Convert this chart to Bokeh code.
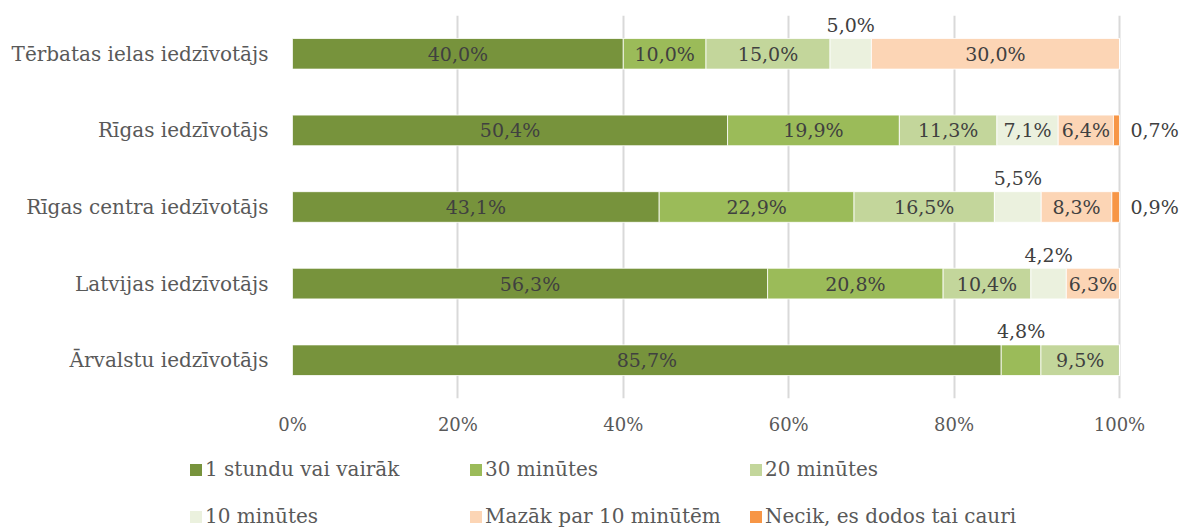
from bokeh.plotting import figure
from bokeh.layouts import column
from bokeh.models import (ColumnDataSource, FactorRange, Range1d, Legend, LegendItem,
                          LabelSet, FixedTicker)
from bokeh.core.properties import value
from bokeh.embed import file_html
from bokeh.resources import INLINE

categories = ["Tērbatas ielas iedzīvotājs", "Rīgas iedzīvotājs", "Rīgas centra iedzīvotājs",
              "Latvijas iedzīvotājs", "Ārvalstu iedzīvotājs"]
series_names = ["1 stundu vai vairāk", "30 minūtes", "20 minūtes", "10 minūtes",
                "Mazāk par 10 minūtēm", "Necik, es dodos tai cauri"]
s_1h = [40.0, 50.4, 43.1, 56.3, 85.7]
s_30 = [10.0, 19.9, 22.9, 20.8, 4.8]
s_20 = [15.0, 11.3, 16.5, 10.4, 9.5]
s_10 = [5.0, 7.1, 5.5, 4.2, 0.0]
s_lt10 = [30.0, 6.4, 8.3, 6.3, 0.0]
s_none = [0.0, 0.7, 0.9, 0.0, 0.0]
x_ticks = [0, 20, 40, 60, 80, 100]
x_tick_labels = ["0%", "20%", "40%", "60%", "80%", "100%"]
colors = ["#77933C", "#9BBB59", "#C3D69B", "#EBF1DE", "#FCD5B5", "#F79646"]

series = [s_1h, s_30, s_20, s_10, s_lt10, s_none]
totals = [sum(s[i] for s in series) for i in range(len(categories))]

TEXT_FONT = "DejaVu Serif"
NUM_FONT = "DejaVu Serif"

# frame extends to the right edge so labels outside the 100% end stay visible
p = figure(width=1183, height=448, output_backend="svg", toolbar_location=None,
           y_range=FactorRange(factors=list(reversed(categories))),
           x_range=Range1d(0, 107.74),
           min_border_left=292, min_border_right=0, min_border_top=15, min_border_bottom=50)
p.outline_line_color = None
p.frame_align = False

left_acc = [0.0] * len(categories)
renderers = []
lab_in = dict(x=[], y=[], t=[])
lab_above = dict(x=[], y=[], t=[])
lab_right = dict(x=[], y=[], t=[])
for si, (vals, col) in enumerate(zip(series, colors)):
    lefts, rights = [], []
    for ci, v in enumerate(vals):
        w = v / totals[ci] * 100.0
        lefts.append(left_acc[ci])
        rights.append(left_acc[ci] + w)
        if v > 0:
            txt = ("%.1f%%" % v).replace(".", ",")
            if v < 1.0:
                lab_right["x"].append(left_acc[ci] + w)
                lab_right["y"].append(categories[ci])
                lab_right["t"].append(txt)
            elif w < 6.0:
                lab_above["x"].append(left_acc[ci] + w / 2)
                lab_above["y"].append(categories[ci])
                lab_above["t"].append(txt)
            else:
                lab_in["x"].append(left_acc[ci] + w / 2)
                lab_in["y"].append(categories[ci])
                lab_in["t"].append(txt)
        left_acc[ci] += w
    src = ColumnDataSource(dict(y=categories, left=lefts, right=rights))
    r = p.hbar(y="y", left="left", right="right", height=0.4, source=src,
               fill_color=col, line_color="white", line_width=0.8)
    renderers.append(r)

common = dict(text_font_size=value("19px"), text_color=value("#404040"),
              text_font=value(NUM_FONT))
p.add_layout(LabelSet(x="x", y="y", text="t", source=ColumnDataSource(lab_in),
                      text_align="center", text_baseline="middle", **common))
p.add_layout(LabelSet(x="x", y="y", text="t", source=ColumnDataSource(lab_above),
                      text_align="center", text_baseline="bottom", y_offset=18, **common))
p.add_layout(LabelSet(x="x", y="y", text="t", source=ColumnDataSource(lab_right),
                      text_align="left", text_baseline="middle", x_offset=11, **common))

# grid
p.xgrid.ticker = FixedTicker(ticks=x_ticks)
p.xgrid.grid_line_color = "#D9D9D9"
p.xgrid.grid_line_width = 2
p.ygrid.grid_line_color = None

# axes
p.xaxis.ticker = FixedTicker(ticks=x_ticks)
p.xaxis.major_label_overrides = {t: l for t, l in zip(x_ticks, x_tick_labels)}
for ax in (p.xaxis, p.yaxis):
    ax.axis_line_color = None
    ax.major_tick_line_color = None
    ax.minor_tick_line_color = None
    ax.major_tick_out = 0
    ax.major_tick_in = 0
    ax.major_label_text_color = "#595959"
    ax.major_label_text_font = TEXT_FONT
p.xaxis.major_label_text_font_size = "18px"
p.xaxis.major_label_standoff = 15
p.yaxis.major_label_text_font_size = "20px"
p.yaxis.major_label_standoff = 24

# legend in its own strip below the chart
pl = figure(width=1183, height=80, output_backend="svg", toolbar_location=None,
            x_range=Range1d(0, 1), y_range=Range1d(0, 1),
            x_axis_location=None, y_axis_location=None, min_border=0)
pl.outline_line_color = None
pl.grid.visible = False
pl.frame_align = False
leg_renderers = []
for col in colors:
    # zero-size proxy bars: only their legend swatches are seen
    leg_renderers.append(pl.hbar(y=[0], left=[0], right=[0], height=0,
                                 fill_color=col, line_color=None))
legend = Legend(items=[LegendItem(label=n, renderers=[r]) for n, r in zip(series_names, leg_renderers)],
                ncols=3, orientation="horizontal", location=(188, 0),
                padding=0, margin=0, spacing=23, label_standoff=2,
                glyph_width=15, glyph_height=15, label_width=240, label_height=20,
                border_line_color=None, background_fill_alpha=0,
                label_text_font=TEXT_FONT, label_text_font_size="20px",
                label_text_color="#595959")
pl.add_layout(legend, "center")

layout = column(p, pl, spacing=0)
open("out.html", "w").write(file_html(layout, INLINE))
